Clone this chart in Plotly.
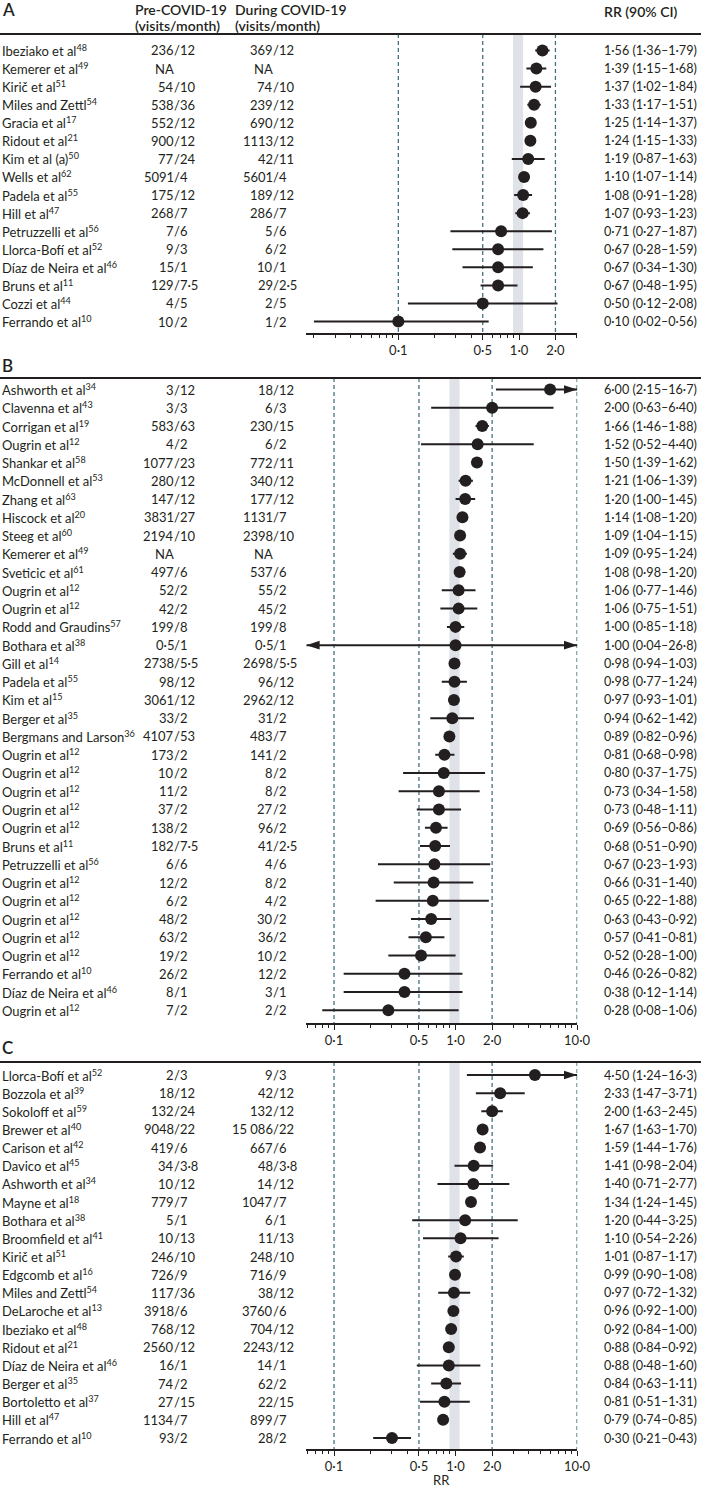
import plotly.graph_objects as go

W, H = 714, 1488
FONT = 'Lato'
INK = '#231f20'
REF_COLOUR = '#44707f'
BAND_COLOUR = '#dfe3e8'

# shaded band around RR = 1
band_lo, band_hi = 0.89, 1.08

# ---------------- Panel A ----------------
study_a = ['Ibeziako et al', 'Kemerer et al', 'Kirič et al', 'Miles and Zettl', 'Gracia et al',
           'Ridout et al', 'Kim et al (a)', 'Wells et al', 'Padela et al', 'Hill et al',
           'Petruzzelli et al', 'Llorca-Bofí et al', 'Díaz de Neira et al', 'Bruns et al',
           'Cozzi et al', 'Ferrando et al']
ref_a = ['48', '49', '51', '54', '17', '21', '50', '62', '55', '47', '56', '52', '46', '11', '44', '10']
pre_a = ['236/12', 'NA', '54/10', '538/36', '552/12', '900/12', '77/24', '5091/4', '175/12',
         '268/7', '7/6', '9/3', '15/1', '129/7·5', '4/5', '10/2']
during_a = ['369/12', 'NA', '74/10', '239/12', '690/12', '1113/12', '42/11', '5601/4', '189/12',
            '286/7', '5/6', '6/2', '10/1', '29/2·5', '2/5', '1/2']
label_a = ['1·56 (1·36–1·79)', '1·39 (1·15–1·68)', '1·37 (1·02–1·84)', '1·33 (1·17–1·51)',
           '1·25 (1·14–1·37)', '1·24 (1·15–1·33)', '1·19 (0·87–1·63)', '1·10 (1·07–1·14)',
           '1·08 (0·91–1·28)', '1·07 (0·93–1·23)', '0·71 (0·27–1·87)', '0·67 (0·28–1·59)',
           '0·67 (0·34–1·30)', '0·67 (0·48–1·95)', '0·50 (0·12–2·08)', '0·10 (0·02–0·56)']
# values as drawn in the plot
rr_a = [1.56, 1.39, 1.37, 1.33, 1.25, 1.24, 1.19, 1.10, 1.08, 1.07, 0.71, 0.67, 0.67, 0.67, 0.50, 0.10]
lo_a = [1.36, 1.15, 1.02, 1.17, 1.14, 1.15, 0.87, 1.07, 0.91, 0.93, 0.27, 0.28, 0.34, 0.48, 0.12, 0.02]
hi_a = [1.79, 1.68, 1.84, 1.51, 1.37, 1.33, 1.63, 1.14, 1.28, 1.23, 1.87, 1.59, 1.30, 0.97, 2.08, 0.56]

# ---------------- Panel B ----------------
study_b = ['Ashworth et al', 'Clavenna et al', 'Corrigan et al', 'Ougrin et al', 'Shankar et al',
           'McDonnell et al', 'Zhang et al', 'Hiscock et al', 'Steeg et al', 'Kemerer et al',
           'Sveticic et al', 'Ougrin et al', 'Ougrin et al', 'Rodd and Graudins', 'Bothara et al',
           'Gill et al', 'Padela et al', 'Kim et al', 'Berger et al', 'Bergmans and Larson',
           'Ougrin et al', 'Ougrin et al', 'Ougrin et al', 'Ougrin et al', 'Ougrin et al',
           'Bruns et al', 'Petruzzelli et al', 'Ougrin et al', 'Ougrin et al', 'Ougrin et al',
           'Ougrin et al', 'Ougrin et al', 'Ferrando et al', 'Díaz de Neira et al', 'Ougrin et al']
ref_b = ['34', '43', '19', '12', '58', '53', '63', '20', '60', '49', '61', '12', '12', '57', '38',
         '14', '55', '15', '35', '36', '12', '12', '12', '12', '12', '11', '56', '12', '12', '12',
         '12', '12', '10', '46', '12']
pre_b = ['3/12', '3/3', '583/63', '4/2', '1077/23', '280/12', '147/12', '3831/27', '2194/10', 'NA',
         '497/6', '52/2', '42/2', '199/8', '0·5/1', '2738/5·5', '98/12', '3061/12', '33/2',
         '4107/53', '173/2', '10/2', '11/2', '37/2', '138/2', '182/7·5', '6/6', '12/2', '6/2',
         '48/2', '63/2', '19/2', '26/2', '8/1', '7/2']
during_b = ['18/12', '6/3', '230/15', '6/2', '772/11', '340/12', '177/12', '1131/7', '2398/10', 'NA',
            '537/6', '55/2', '45/2', '199/8', '0·5/1', '2698/5·5', '96/12', '2962/12', '31/2',
            '483/7', '141/2', '8/2', '8/2', '27/2', '96/2', '41/2·5', '4/6', '8/2', '4/2',
            '30/2', '36/2', '10/2', '12/2', '3/1', '2/2']
label_b = ['6·00 (2·15–16·7)', '2·00 (0·63–6·40)', '1·66 (1·46–1·88)', '1·52 (0·52–4·40)',
           '1·50 (1·39–1·62)', '1·21 (1·06–1·39)', '1·20 (1·00–1·45)', '1·14 (1·08–1·20)',
           '1·09 (1·04–1·15)', '1·09 (0·95–1·24)', '1·08 (0·98–1·20)', '1·06 (0·77–1·46)',
           '1·06 (0·75–1·51)', '1·00 (0·85–1·18)', '1·00 (0·04–26·8)', '0·98 (0·94–1·03)',
           '0·98 (0·77–1·24)', '0·97 (0·93–1·01)', '0·94 (0·62–1·42)', '0·89 (0·82–0·96)',
           '0·81 (0·68–0·98)', '0·80 (0·37–1·75)', '0·73 (0·34–1·58)', '0·73 (0·48–1·11)',
           '0·69 (0·56–0·86)', '0·68 (0·51–0·90)', '0·67 (0·23–1·93)', '0·66 (0·31–1·40)',
           '0·65 (0·22–1·88)', '0·63 (0·43–0·92)', '0·57 (0·41–0·81)', '0·52 (0·28–1·00)',
           '0·46 (0·26–0·82)', '0·38 (0·12–1·14)', '0·28 (0·08–1·06)']
rr_b = [6.00, 2.00, 1.66, 1.52, 1.50, 1.21, 1.20, 1.14, 1.09, 1.09, 1.08, 1.06, 1.06, 1.00, 1.00,
        0.98, 0.98, 0.97, 0.94, 0.89, 0.81, 0.80, 0.73, 0.73, 0.69, 0.68, 0.67, 0.66, 0.65, 0.63,
        0.57, 0.52, 0.38, 0.38, 0.28]
lo_b = [2.15, 0.63, 1.46, 0.52, 1.39, 1.06, 1.00, 1.08, 1.04, 0.95, 0.98, 0.77, 0.75, 0.85, 0.04,
        0.94, 0.77, 0.93, 0.62, 0.82, 0.68, 0.37, 0.34, 0.48, 0.56, 0.51, 0.23, 0.31, 0.22, 0.43,
        0.41, 0.28, 0.12, 0.12, 0.08]
hi_b = [16.7, 6.40, 1.88, 4.40, 1.62, 1.39, 1.45, 1.20, 1.15, 1.24, 1.20, 1.46, 1.51, 1.18, 26.8,
        1.03, 1.24, 1.01, 1.42, 0.96, 0.98, 1.75, 1.58, 1.11, 0.86, 0.90, 1.93, 1.40, 1.88, 0.92,
        0.81, 1.00, 1.14, 1.14, 1.06]

# ---------------- Panel C ----------------
study_c = ['Llorca-Bofí et al', 'Bozzola et al', 'Sokoloff et al', 'Brewer et al', 'Carison et al',
           'Davico et al', 'Ashworth et al', 'Mayne et al', 'Bothara et al', 'Broomfield et al',
           'Kirič et al', 'Edgcomb et al', 'Miles and Zettl', 'DeLaroche et al', 'Ibeziako et al',
           'Ridout et al', 'Díaz de Neira et al', 'Berger et al', 'Bortoletto et al', 'Hill et al',
           'Ferrando et al']
ref_c = ['52', '39', '59', '40', '42', '45', '34', '18', '38', '41', '51', '16', '54', '13', '48',
         '21', '46', '35', '37', '47', '10']
pre_c = ['2/3', '18/12', '132/24', '9048/22', '419/6', '34/3·8', '10/12', '779/7', '5/1', '10/13',
         '246/10', '726/9', '117/36', '3918/6', '768/12', '2560/12', '16/1', '74/2', '27/15',
         '1134/7', '93/2']
during_c = ['9/3', '42/12', '132/12', '15\u202f086/22', '667/6', '48/3·8', '14/12', '1047/7', '6/1',
            '11/13', '248/10', '716/9', '38/12', '3760/6', '704/12', '2243/12', '14/1', '62/2',
            '22/15', '899/7', '28/2']
label_c = ['4·50 (1·24–16·3)', '2·33 (1·47–3·71)', '2·00 (1·63–2·45)', '1·67 (1·63–1·70)',
           '1·59 (1·44–1·76)', '1·41 (0·98–2·04)', '1·40 (0·71–2·77)', '1·34 (1·24–1·45)',
           '1·20 (0·44–3·25)', '1·10 (0·54–2·26)', '1·01 (0·87–1·17)', '0·99 (0·90–1·08)',
           '0·97 (0·72–1·32)', '0·96 (0·92–1·00)', '0·92 (0·84–1·00)', '0·88 (0·84–0·92)',
           '0·88 (0·48–1·60)', '0·84 (0·63–1·11)', '0·81 (0·51–1·31)', '0·79 (0·74–0·85)',
           '0·30 (0·21–0·43)']
rr_c = [4.50, 2.33, 2.00, 1.67, 1.59, 1.41, 1.40, 1.34, 1.20, 1.10, 1.01, 0.99, 0.97, 0.96, 0.92,
        0.88, 0.88, 0.84, 0.81, 0.79, 0.30]
lo_c = [1.24, 1.47, 1.63, 1.63, 1.44, 0.98, 0.71, 1.24, 0.44, 0.54, 0.87, 0.90, 0.72, 0.92, 0.84,
        0.84, 0.48, 0.63, 0.51, 0.74, 0.21]
hi_c = [16.3, 3.71, 2.45, 1.70, 1.76, 2.04, 2.77, 1.45, 3.25, 2.26, 1.17, 1.08, 1.32, 1.00, 1.00,
        0.92, 1.60, 1.11, 1.31, 0.85, 0.43]

ticks_a = [0.1, 0.5, 1.0, 2.0]
ticks_bc = [0.1, 0.5, 1.0, 2.0, 10.0]
dashed_a = [0.1, 0.5, 2.0]
dashed_bc = [0.1, 0.5, 2.0, 10.0]

# pixel layout of each panel (rule line, first row, row step, axis line)
panels = [
    dict(letter='A', study=study_a, ref=ref_a, pre=pre_a, during=during_a, label=label_a,
         rr=rr_a, lo=lo_a, hi=hi_a, ticks=ticks_a, dashed=dashed_a, xrange=(-1.762, 0.482),
         top=34, row1=50.5, step=18.07, bottom=333, letter_y=9),
    dict(letter='B', study=study_b, ref=ref_b, pre=pre_b, during=during_b, label=label_b,
         rr=rr_b, lo=lo_b, hi=hi_b, ticks=ticks_bc, dashed=dashed_bc, xrange=(-1.228, 1.002),
         top=378, row1=389.5, step=18.26, bottom=1023, letter_y=365),
    dict(letter='C', study=study_c, ref=ref_c, pre=pre_c, during=during_c, label=label_c,
         rr=rr_c, lo=lo_c, hi=hi_c, ticks=ticks_bc, dashed=dashed_bc, xrange=(-1.228, 1.002),
         top=1062, row1=1075, step=18.15, bottom=1449, letter_y=1047),
]

X0, X1 = 312, 588          # plot area, pixels
NAME_X, PRE_X, DUR_X, RR_X = 2, 177, 278, 615


def fmt(v):
    return f'{v:.1f}'.replace('.', '·')


def text(t, x_px, y, yref, anchor='left', size=13, weight='normal'):
    return dict(text=t, x=x_px / W, xref='paper', y=y, yref=yref, xanchor=anchor,
                yanchor='middle', showarrow=False, borderpad=0, borderwidth=0,
                font=dict(family=FONT, size=size, color=INK, weight=weight))


fig = go.Figure()
annotations = []
shapes = []
layout_axes = {}

for k, p in enumerate(panels, start=1):
    sfx = '' if k == 1 else str(k)
    xa, ya = 'x' + sfx, 'y' + sfx

    def row_of(px):
        return 1 + (px - p['row1']) / p['step']

    y_top, y_bot = row_of(p['top']), row_of(p['bottom'])
    rows = list(range(1, len(p['study']) + 1))
    xmin, xmax = 10 ** p['xrange'][0], 10 ** p['xrange'][1]

    # shaded band
    fig.add_trace(go.Scatter(x=[band_lo, band_hi, band_hi, band_lo, band_lo],
                             y=[y_top, y_top, y_bot, y_bot, y_top], mode='lines',
                             fill='toself', fillcolor=BAND_COLOUR, line=dict(width=0),
                             xaxis=xa, yaxis=ya, hoverinfo='skip'))
    # dashed reference lines
    dx, dy = [], []
    for v in p['dashed']:
        dx += [v, v, None]
        dy += [y_top, y_bot, None]
    fig.add_trace(go.Scatter(x=dx, y=dy, mode='lines',
                             line=dict(color=REF_COLOUR, width=1.3, dash='4px,3px'),
                             xaxis=xa, yaxis=ya, hoverinfo='skip'))
    # confidence intervals, with arrows where they run off the axis
    cx, cy, ax_, ay, ang = [], [], [], [], []
    for r, lo, hi in zip(rows, p['lo'], p['hi']):
        cx += [max(lo, xmin), min(hi, xmax), None]
        cy += [r, r, None]
        if hi > xmax:
            ax_.append(xmax); ay.append(r); ang.append(90)
        if lo < xmin:
            ax_.append(xmin); ay.append(r); ang.append(-90)
    fig.add_trace(go.Scatter(x=cx, y=cy, mode='lines', line=dict(color=INK, width=2),
                             xaxis=xa, yaxis=ya, hoverinfo='skip'))
    if ax_:
        fig.add_trace(go.Scatter(x=ax_, y=ay, mode='markers', cliponaxis=False,
                                 marker=dict(symbol='arrow', size=14, angle=ang, color=INK),
                                 xaxis=xa, yaxis=ya, hoverinfo='skip'))
    # point estimates
    fig.add_trace(go.Scatter(x=p['rr'], y=rows, mode='markers',
                             marker=dict(size=12, color=INK), xaxis=xa, yaxis=ya))

    # axes
    minor = [m * 10 ** e for e in range(-2, 2) for m in range(2, 10)
             if xmin <= m * 10 ** e <= xmax and m * 10 ** e not in p['ticks']]
    layout_axes['xaxis' + sfx] = dict(
        type='log', range=list(p['xrange']), domain=[X0 / W, X1 / W], anchor=ya,
        showgrid=False, zeroline=False, showline=True, linecolor=INK, linewidth=1.5,
        ticks='outside', ticklen=5, tickwidth=1.2, tickcolor=INK,
        tickmode='array', tickvals=p['ticks'], ticktext=[fmt(v) for v in p['ticks']],
        tickfont=dict(family=FONT, size=13, color=INK),
        minor=dict(tickmode='array', tickvals=minor, ticks='outside', ticklen=3,
                   tickwidth=1, tickcolor=INK, showgrid=False),
        fixedrange=True)
    layout_axes['yaxis' + sfx] = dict(domain=[1 - p['bottom'] / H, 1 - p['top'] / H],
                                      range=[y_bot, y_top], visible=False, anchor=xa,
                                      fixedrange=True)

    # table text
    for r, s, ref, pre, dur, lab in zip(rows, p['study'], p['ref'], p['pre'],
                                        p['during'], p['label']):
        annotations.append(text(f'{s}<sup>{ref}</sup>', NAME_X, r, ya))
        for val, xs in ((pre, PRE_X), (dur, DUR_X)):
            left, _, right = val.partition('/')
            annotations.append(text(left, xs, r, ya, anchor='right'))
            if right:
                annotations.append(text('/' + right, xs, r, ya))
        annotations.append(text(lab, RR_X, r, ya, size=12.6))

    # panel letter and rule
    annotations.append(text(p['letter'], 2, 1 - p['letter_y'] / H, 'paper', size=17, weight=600))
    shapes.append(dict(type='line', xref='paper', yref='paper', x0=0, x1=1,
                       y0=1 - p['top'] / H, y1=1 - p['top'] / H,
                       line=dict(color=INK, width=2)))

# column headers
for t, x, y in [('Pre-COVID-19', 137, 10), ('(visits/month)', 137, 25),
                ('During COVID-19', 239, 10), ('(visits/month)', 239, 25),
                ('RR (90% CI)', RR_X, 11)]:
    annotations.append(text(t, x, 1 - y / H, 'paper', size=14, weight=600))
annotations.append(text('RR', (X0 + X1) / 2, 1 - 1480 / H, 'paper', anchor='center'))

fig.update_layout(
    width=W, height=H, margin=dict(l=0, r=0, t=0, b=0),
    paper_bgcolor='white', plot_bgcolor='white', showlegend=False,
    font=dict(family=FONT, size=13, color=INK),
    annotations=annotations, shapes=shapes, **layout_axes)

# the page body keeps its default 8px margin otherwise
fig.write_html('out.html', config={'displayModeBar': False},
               post_script="document.body.style.margin = '0';")
